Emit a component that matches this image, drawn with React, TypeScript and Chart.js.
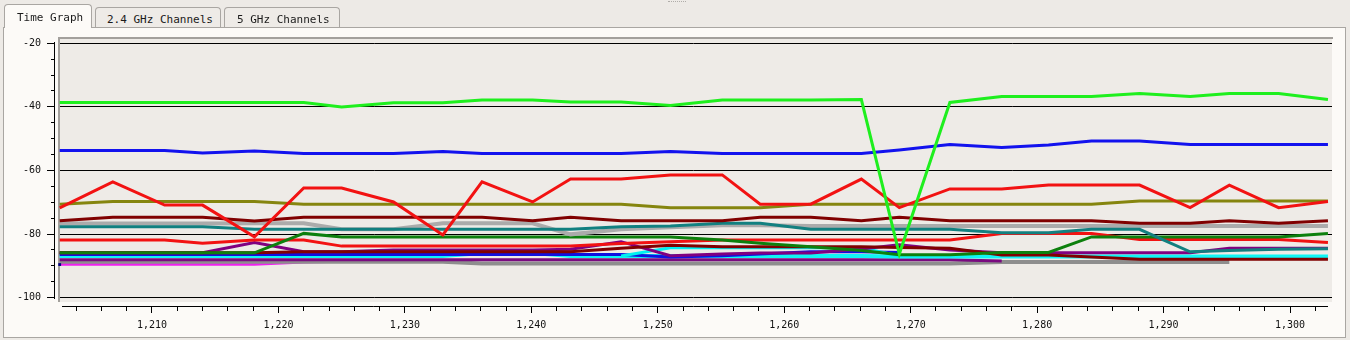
import React, { useEffect, useRef } from 'react';
import { Chart, registerables } from 'chart.js';

Chart.register(...registerables);

// ---- data ----
const sampleTimes = [1202.7, 1206.9, 1211.0, 1214.0, 1218.1, 1222.0, 1225.0, 1229.1, 1233.0, 1236.1, 1240.1, 1243.1, 1247.1, 1251.0, 1255.1, 1258.1, 1262.1, 1266.1, 1269.1, 1273.1, 1277.2, 1280.9, 1284.3, 1288.1, 1292.1, 1295.2, 1299.1, 1303.0];

const brightGreen = [-38.6, -38.6, -38.6, -38.6, -38.6, -38.6, -40.0, -38.7, -38.7, -37.8, -37.8, -38.5, -38.5, -39.6, -37.8, -37.8, -37.8, -37.7, -86.3, -38.6, -36.7, -36.7, -36.7, -35.8, -36.7, -35.8, -35.8, -37.7];
const blueHigh = [-53.7, -53.7, -53.7, -54.5, -53.9, -54.7, -54.7, -54.7, -54.0, -54.7, -54.7, -54.7, -54.7, -54.0, -54.7, -54.7, -54.7, -54.7, -53.6, -51.8, -52.8, -52.0, -50.7, -50.7, -51.8, -51.8, -51.8, -51.8];
const redHigh = [-71.8, -63.6, -70.9, -70.9, -80.9, -65.5, -65.5, -69.9, -80.3, -63.6, -69.9, -62.7, -62.7, -61.4, -61.4, -70.6, -70.6, -62.7, -71.7, -65.8, -65.8, -64.6, -64.6, -64.6, -71.7, -64.6, -71.7, -69.8];
const olive = [-70.6, -69.8, -69.8, -69.8, -69.8, -70.6, -70.6, -70.6, -70.6, -70.6, -70.6, -70.6, -70.6, -71.7, -71.7, -71.7, -70.6, -70.6, -70.6, -70.6, -70.6, -70.6, -70.6, -69.6, -69.6, -69.6, -69.6, -69.6];
const maroonHigh = [-75.8, -74.7, -74.7, -74.7, -75.9, -74.7, -74.7, -74.7, -74.7, -74.7, -75.8, -74.7, -75.8, -75.8, -75.8, -74.7, -74.7, -75.8, -74.7, -75.8, -75.8, -75.8, -75.8, -76.6, -76.6, -75.8, -76.6, -75.8];
const greyHigh = [-76.7, -76.7, -76.7, -76.7, -76.6, -76.6, -78.5, -78.5, -76.6, -76.6, -76.6, -80.1, -78.5, -77.9, -77.2, -77.2, -77.5, -77.5, -77.5, -77.5, -77.5, -77.5, -77.5, -77.5, -77.5, -77.5, -77.5, -77.5];
const teal = [-77.7, -77.7, -77.7, -77.7, -78.5, -78.5, -78.5, -78.5, -78.5, -78.5, -78.5, -78.5, -77.7, -77.5, -76.6, -76.6, -78.5, -78.5, -78.5, -78.5, -79.6, -79.6, -78.5, -78.5, -85.6, -85.2, -84.8, -84.6];
const darkGreen = [-85.9, -85.9, -85.9, -85.9, -85.9, -79.8, -80.9, -80.9, -80.9, -80.9, -80.9, -80.9, -80.9, -80.9, -81.9, -82.9, -84.0, -85.2, -86.5, -86.5, -85.8, -85.8, -80.9, -80.9, -80.9, -80.9, -80.9, -79.8];
const redLow = [-81.9, -81.9, -81.9, -82.9, -81.9, -81.9, -83.8, -83.8, -83.8, -83.8, -83.8, -83.8, -83.0, -82.4, -81.9, -81.9, -81.9, -81.9, -81.9, -81.9, -79.8, -79.8, -79.8, -81.7, -81.7, -81.7, -81.7, -82.7];
const maroonLow = [-85.9, -85.9, -85.9, -85.9, -85.9, -85.6, -85.6, -85.6, -85.6, -85.6, -85.6, -85.6, -84.5, -83.5, -84.0, -84.0, -84.0, -84.0, -84.2, -84.5, -86.6, -86.6, -87.2, -87.9, -87.9, -87.9, -87.9, -87.9];
const purple = [-85.9, -85.9, -85.9, -85.9, -82.7, -85.6, -85.6, -85.0, -85.0, -85.0, -85.0, -84.8, -82.4, -86.8, -86.3, -86.0, -86.0, -84.7, -83.4, -85.0, -85.9, -85.9, -85.9, -85.9, -85.9, -84.5, -84.5, -84.5];
const cyanB = [null, null, null, null, null, null, null, null, null, null, null, null, -86.9, -84.3, -84.3, -84.3, -84.3, -84.3, -86.9, null, null, null, null, null, null, null, null, null];
const blueLow = [-86.4, -86.4, -86.4, -86.4, -86.4, -86.4, -86.4, -86.4, -86.4, -86.4, -86.4, -86.4, -86.4, -87.2, -86.8, -86.3, -85.6, -85.6, -85.8, null, null, null, null, null, null, null, null, null];
const cyan = [-86.9, -86.9, -86.9, -86.9, -86.9, -86.9, -86.9, -86.9, -86.9, -86.0, -86.0, -86.9, -86.9, -86.9, -86.9, -86.9, -86.9, -86.9, -87.1, -87.1, -87.1, -87.1, -87.1, -87.1, -87.1, -87.1, -87.1, -87.1];
const purpleLow = [-88.1, -88.1, -88.1, -88.1, -88.1, -88.1, -88.1, -88.1, -88.1, -88.1, -88.1, -88.1, -88.1, -88.1, -88.1, -88.1, -88.1, -88.1, -88.1, -88.1, -88.5, null, null, null, null, null, null, null];
const greyLow = [-88.7, -88.7, -88.7, -88.7, -88.7, -88.7, -88.7, -88.7, -88.7, -89.3, -89.3, -89.3, -89.3, -89.3, -89.3, -89.3, -89.3, -89.3, -89.3, -89.3, -88.8, -88.8, -88.8, -88.8, -88.8, -88.8, null, null];
const magenta = [-89.5, -89.5, -89.5, -89.5, -89.5, -88.8, -88.6, -88.6, -88.6, null, null, null, null, null, null, null, null, null, null, null, null, null, null, null, null, null, null, null];
const navy = [-89.6, null, null, null, null, null, null, null, null, null, null, null, null, null, null, null, null, null, null, null, null, null, null, null, null, null, null, null];

const yTicks = [-100, -95, -90, -85, -80, -75, -70, -65, -60, -55, -50, -45, -40, -35, -30, -25, -20];
const yLabelTicks = [-100, -80, -60, -40, -20];
const xTicks = [1204, 1206, 1208, 1210, 1212, 1214, 1216, 1218, 1220, 1222, 1224, 1226, 1228, 1230, 1232, 1234, 1236, 1238, 1240, 1242, 1244, 1246, 1248, 1250, 1252, 1254, 1256, 1258, 1260, 1262, 1264, 1266, 1268, 1270, 1272, 1274, 1276, 1278, 1280, 1282, 1284, 1286, 1288, 1290, 1292, 1294, 1296, 1298, 1300, 1302];
const xLabelTicks = [1210, 1220, 1230, 1240, 1250, 1260, 1270, 1280, 1290, 1300];

const tabLabels = ['Time Graph', '2.4 GHz Channels', '5 GHz Channels'];

// top of list is drawn on top
const series = [
  { name: 'navy', values: navy, color: '#000080', width: 3 },
  { name: 'bright green', values: brightGreen, color: '#1EEF1E', width: 3 },
  { name: 'blue', values: blueHigh, color: '#1212EE', width: 3 },
  { name: 'red', values: redHigh, color: '#F21212', width: 3 },
  { name: 'olive', values: olive, color: '#85850F', width: 3 },
  { name: 'maroon', values: maroonHigh, color: '#800000', width: 3 },
  { name: 'teal', values: teal, color: '#128080', width: 3 },
  { name: 'silver', values: greyHigh, color: '#ABABAB', width: 4 },
  { name: 'green', values: darkGreen, color: '#0D800D', width: 3 },
  { name: 'red 2', values: redLow, color: '#F21212', width: 3 },
  { name: 'maroon 2', values: maroonLow, color: '#800000', width: 3 },
  { name: 'purple', values: purple, color: '#800080', width: 3 },
  { name: 'aqua 2', values: cyanB, color: '#00F0F0', width: 3 },
  { name: 'blue 2', values: blueLow, color: '#1010E0', width: 3 },
  { name: 'aqua', values: cyan, color: '#10F5F5', width: 4 },
  { name: 'purple 2', values: purpleLow, color: '#7A0A80', width: 3 },
  { name: 'grey', values: greyLow, color: '#8E8E8E', width: 4 },
  { name: 'magenta', values: magenta, color: '#F020F0', width: 3 },
];

const PAGE_BG = '#EDEAE6';
const PANEL_BG = '#FCFAF7';
const PLOT_BG = '#EEEBE7';
const EDGE = '#A9A6A2';
const PLOT_EDGE = '#A3A09C';
const MONO = '"DejaVu Sans Mono", "Liberation Mono", monospace';

const plotFrame = {
  id: 'plotFrame',
  beforeDraw(chart: any) {
    const { ctx, chartArea } = chart;
    const y = chart.scales.y;
    const bottom = Math.round(y.getPixelForValue(-100)) + 4;
    ctx.save();
    ctx.fillStyle = PLOT_BG;
    ctx.fillRect(chartArea.left + 4, chartArea.top - 1, chartArea.right - chartArea.left - 4, bottom - chartArea.top + 1);
    ctx.restore();
  },
  beforeDatasetsDraw(chart: any) {
    const { ctx, chartArea } = chart;
    const y = chart.scales.y;
    const top = Math.round(y.getPixelForValue(-20));
    const base = Math.round(y.getPixelForValue(-100));
    const bottom = base + 4;
    ctx.save();
    ctx.fillStyle = PANEL_BG;
    // gap between axis line and plot frame
    ctx.fillRect(chartArea.left + 1, chartArea.top - 1, 3, chartArea.bottom - chartArea.top);
    // trim axis line ends
    ctx.fillRect(chartArea.left - 1, chartArea.top - 2, 3, top - chartArea.top + 1);
    ctx.fillRect(chartArea.left - 1, base + 1, 3, chartArea.bottom - base - 2);
    ctx.fillRect(chartArea.left - 1, chartArea.bottom - 2, 9, 4);
    ctx.fillRect(chartArea.right - 4, chartArea.bottom - 2, 6, 4);
    // frame
    ctx.fillStyle = PLOT_EDGE;
    ctx.fillRect(chartArea.left + 4, chartArea.top - 1, 2, bottom - chartArea.top + 1);
    ctx.fillRect(chartArea.left + 4, chartArea.top - 1, chartArea.right - chartArea.left - 3, 2);
    ctx.restore();
  },
};

function ChartCanvas() {
  const ref = useRef<HTMLCanvasElement | null>(null);
  useEffect(() => {
    if (!ref.current) return;
    const chart = new Chart(ref.current, {
      type: 'line',
      data: {
        datasets: series.map((s) => ({
          label: s.name,
          data: sampleTimes.map((t, i) => ({ x: t, y: s.values[i] })),
          borderColor: s.color,
          backgroundColor: s.color,
          borderWidth: s.width,
          pointRadius: s.name === 'navy' ? 2 : 0,
          pointStyle: 'rect',
          pointBorderWidth: 0,
          tension: 0,
          fill: false,
          spanGaps: false,
        })),
      },
      options: {
        animation: false,
        responsive: false,
        devicePixelRatio: 1,
        events: [],
        layout: { padding: { left: 0, top: 38, right: 18, bottom: 0 } },
        plugins: { legend: { display: false }, tooltip: { enabled: false } },
        scales: {
          x: {
            type: 'linear',
            min: 1202.25,
            max: 1303.32,
            afterBuildTicks: (scale: any) => {
              scale.ticks = xTicks.map((v) => ({ value: v }));
            },
            afterFit: (scale: any) => {
              scale.height = 34;
            },
            grid: {
              drawOnChartArea: false,
              drawTicks: true,
              tickLength: 7,
              tickColor: '#000',
              tickWidth: 1,
              tickBorderDash: (ctx: any) => (xLabelTicks.includes(ctx.tick?.value) ? [] : [4, 40]),
            },
            border: { display: true, color: '#000', width: 1 },
            ticks: {
              autoSkip: false,
              maxRotation: 0,
              padding: 6,
              color: '#111',
              font: { family: MONO, size: 10 },
              callback: (v: any) => (xLabelTicks.includes(Number(v)) ? Number(v).toLocaleString('en-US') : ''),
            },
          },
          y: {
            type: 'linear',
            min: -102.64,
            max: -18.33,
            afterBuildTicks: (scale: any) => {
              scale.ticks = yTicks.map((v) => ({ value: v }));
            },
            afterFit: (scale: any) => {
              scale.width = 54;
            },
            grid: {
              drawOnChartArea: true,
              color: (ctx: any) => (yLabelTicks.includes(ctx.tick?.value) ? '#000' : 'rgba(0,0,0,0)'),
              lineWidth: 1,
              tickLength: 7,
              tickColor: '#000',
              tickWidth: 1,
              tickBorderDash: (ctx: any) => (yLabelTicks.includes(ctx.tick?.value) ? [] : [0, 4, 3, 40]),
            },
            border: { display: true, color: '#000', width: 1 },
            ticks: {
              autoSkip: false,
              padding: 6,
              color: '#111',
              font: { family: MONO, size: 10 },
              callback: (v: any) => (yLabelTicks.includes(Number(v)) ? String(v) : ''),
            },
          },
        },
      },
      plugins: [plotFrame],
    });
    return () => chart.destroy();
  }, []);
  return (
    <canvas
      ref={ref}
      width={1350}
      height={340}
      style={{ position: 'absolute', left: 0, top: 0, width: 1350, height: 340, display: 'block' }}
    />
  );
}

const tabGeom = [
  { left: 4, top: 4, width: 90, height: 24, textLeft: 12, textTop: 6, selected: true },
  { left: 95, top: 7, width: 128, height: 20, textLeft: 11, textTop: 5, selected: false },
  { left: 224, top: 7, width: 118, height: 20, textLeft: 12, textTop: 5, selected: false },
];

export default function App() {
  return (
    <div
      style={{
        position: 'fixed',
        left: 0,
        top: 0,
        width: 1350,
        height: 340,
        background: PAGE_BG,
        overflow: 'hidden',
        fontFamily: MONO,
      }}
    >
      <div
        style={{
          position: 'absolute',
          left: 668,
          top: 1,
          width: 18,
          height: 0,
          borderTop: '1px dotted #B0ADA9',
        }}
      />
      <div
        style={{
          position: 'absolute',
          left: 3,
          top: 27,
          width: 1341,
          height: 309,
          background: PANEL_BG,
          border: `1px solid ${EDGE}`,
        }}
      />
      {tabLabels.map((label, i) => {
        const g = tabGeom[i];
        return (
          <div
            key={label}
            style={{
              position: 'absolute',
              left: g.left,
              top: g.top,
              width: g.width - 2,
              height: g.height,
              background: g.selected ? PANEL_BG : '#EEEBE7',
              borderTop: `1px solid ${EDGE}`,
              borderLeft: `1px solid ${EDGE}`,
              borderRight: `1px solid ${EDGE}`,
              borderRadius: '4px 4px 0 0',
              boxSizing: 'border-box' as const,
              zIndex: g.selected ? 2 : 1,
            }}
          >
            <span
              style={{
                position: 'absolute',
                left: g.textLeft,
                top: g.textTop,
                fontSize: 11,
                lineHeight: '13px',
                color: '#1A1A1A',
                whiteSpace: 'nowrap',
              }}
            >
              {label}
            </span>
          </div>
        );
      })}
      <ChartCanvas />
    </div>
  );
}
